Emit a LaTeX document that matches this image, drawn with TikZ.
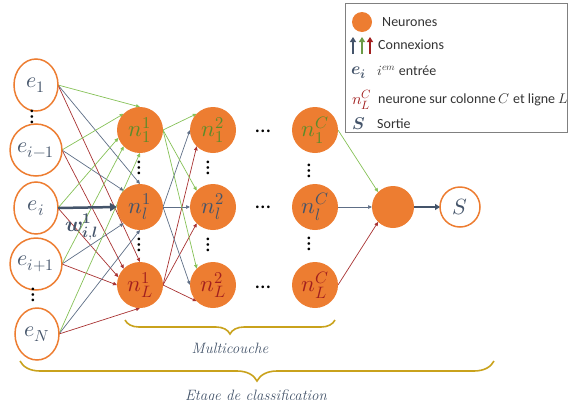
\documentclass[tikz,border=0pt]{standalone}
\usepackage{amsmath}
\usepackage{fontspec}
\usepackage{unicode-math}
\newfontfamily\calibri{Carlito}
\DeclareMathSizes{23}{23}{16.5}{12}
\DeclareMathSizes{22}{22}{16}{12}
\DeclareMathSizes{21}{21}{15}{11}
\DeclareMathSizes{17}{17}{12.5}{10}
\DeclareMathSizes{16}{16}{12}{10}
\usetikzlibrary{arrows.meta,decorations.pathreplacing,backgrounds,shapes.geometric}
\definecolor{orng}{HTML}{ED7D31}
\definecolor{tgreen}{HTML}{5B8C2A}
\definecolor{tblue}{HTML}{44546A}
\definecolor{tred}{HTML}{A11F1F}
\definecolor{lgreen}{HTML}{86C157}
\definecolor{lblue}{HTML}{5E6E86}
\definecolor{lred}{HTML}{A83232}
\definecolor{bracecol}{HTML}{C9A21C}
\definecolor{ltext}{HTML}{333333}
\newcommand{\wlabel}{$\symbfit{w}^{\symbf{1}}_{\symbfit{i},\symbfit{l}}$}
\newcommand{\eilabel}{$\symbfit{e}_{\symbfit{i}}$}
\newcommand{\slabel}{$\symbfit{S}$}
\begin{document}
\begin{tikzpicture}[x=1pt,y=-1pt,
  inp/.style={ellipse, draw=orng, line width=1.5pt, fill=white, minimum width=44pt, minimum height=52pt, inner sep=0pt, outer sep=0pt, font=\fontsize{22}{24}\selectfont, text=tblue},
  neu/.style={circle, fill=orng, minimum size=46pt, inner sep=0pt, outer sep=0pt, font=\fontsize{23}{25}\selectfont},
  con/.style={-{Triangle[length=4pt,width=3.5pt]}, line width=0.7pt},
  hdots/.style={font=\calibri\fontsize{22}{22}\selectfont, text=black, inner sep=0pt},
  vdotsn/.style={hdots, rotate=90},
  bracestyle/.style={draw=bracecol, line width=1.6pt, decorate},
  ltxt/.style={anchor=west, font=\calibri\fontsize{14}{16}\selectfont, text=ltext, inner sep=0pt},
  captxt/.style={font=\fontsize{15}{17}\selectfont\itshape, text=tblue, inner sep=0pt},
  wstyle/.style={font=\fontsize{21}{23}\selectfont, text=tblue, inner sep=0.5pt}
]
\useasboundingbox (0,0) rectangle (572,399);

% inputs
\node[inp] (e1) at (36,85) {$e_1$};
\node[inp] (e2) at (36,150) {$e_{i-1}$};
\node[inp] (e3) at (36,208) {$e_i$};
\node[inp] (e4) at (36,264) {$e_{i+1}$};
\node[inp] (e5) at (37,334) {$e_N$};
\node[vdotsn] (de1) at (32,117) {…};
\node[vdotsn] (de2) at (33,295) {…};

% column 1
\node[neu, text=tgreen] (a1) at (140,130) {$n_1^1$};
\node[neu, text=tblue] (a2) at (140,207) {$n_l^1$};
\node[neu, text=tred] (a3) at (140,285) {$n_L^1$};
% column 2
\node[neu, text=tgreen] (b1) at (213,130) {$n_1^2$};
\node[neu, text=tblue] (b2) at (213,207) {$n_l^2$};
\node[neu, text=tred] (b3) at (213,285) {$n_L^2$};
% column C
\node[neu, text=tgreen] (c1) at (315,130) {$n_1^C$};
\node[neu, text=tblue] (c2) at (315,207) {$n_l^C$};
\node[neu, text=tred] (c3) at (315,285) {$n_L^C$};

\node[vdotsn] (da1) at (139,168) {…};
\node[vdotsn] (da2) at (139,245) {…};
\node[vdotsn] (db1) at (208,168) {…};
\node[vdotsn] (db2) at (208,245) {…};
\node[vdotsn] (dc1) at (309,171) {…};
\node[vdotsn] (dc2) at (309,244) {…};
\node[hdots] (h1) at (263,131) {…};
\node[hdots] (h2) at (263,207) {…};
\node[hdots] (h3) at (263,287) {…};

% output
\node[circle, fill=orng, minimum size=42pt, inner sep=0pt, outer sep=0pt] (o) at (393,207) {};
\node[circle, draw=orng, line width=1.5pt, fill=white, minimum size=40pt, inner sep=0pt, outer sep=0pt, font=\fontsize{22}{24}\selectfont, text=tblue] (s) at (460,207) {$S$};

\begin{scope}[on background layer]
  % inputs -> column 1
  \draw[con, lgreen] (e1.east) -- (a1.90);
  \draw[con, lblue]  (e1.east) -- (a2.90);
  \draw[con, lred]   (e1.east) -- (a3.90);
  \draw[con, lgreen] (e2.east) -- (a1.135);
  \draw[con, lblue]  (e2.east) -- (a2.135);
  \draw[con, lred]   (e2.east) -- (a3.135);
  \draw[con, lgreen] (e3.east) -- (a1.200);
  \draw[con, lred]   (e3.east) -- (a3.160);
  \draw[con, lgreen] (e4.east) -- (a1.225);
  \draw[con, lblue]  (e4.east) -- (a2.225);
  \draw[con, lred]   (e4.east) -- (a3.180);
  \draw[con, lgreen] (e5.east) -- (a1.270);
  \draw[con, lblue]  (e5.east) -- (a2.270);
  \draw[con, lred]   (e5.east) -- (a3.270);
  % column 1 -> column 2
  \foreach \t in {b1,b2,b3} {
    \draw[con, lgreen] (a1.east) -- (\t.135);
    \draw[con, lblue]  (a2.east) -- (\t.180);
    \draw[con, lred]   (a3.east) -- (\t.225);
  }
  % column C -> output
  \draw[con, lgreen] (c1.east) -- (o.135);
  \draw[con, lblue]  (c2.east) -- (o.180);
  \draw[con, lred]   (c3.east) -- (o.225);
\end{scope}

% highlighted weight
\draw[line width=2.5pt, tblue, -{Triangle[length=7pt,width=8pt]}] (e3.east) -- (a2.west);
\node[wstyle] (w) at (82,227) {\wlabel};
% output arrow
\draw[line width=1.6pt, tblue, -{Triangle[length=5pt,width=6pt]}] (o.east) -- (s.west);

% braces
\coordinate (m1) at (125,320);
\coordinate (m2) at (335,320);
\draw[bracestyle, decoration={brace, mirror, amplitude=14pt}] (m1) -- (m2);
\node[captxt] (mc) at (230,348) {Multicouche};
\coordinate (g1) at (20,361);
\coordinate (g2) at (494,361);
\draw[bracestyle, decoration={brace, mirror, amplitude=20pt}] (g1) -- (g2);
\node[captxt, anchor=base] (ec) at (256,400) {Etage de classification};

% legend
\node[draw=gray, line width=0.8pt, minimum width=222pt, minimum height=129pt, anchor=north west, inner sep=0pt] (leg) at (345,3) {};
\node[circle, fill=orng, minimum size=20pt, inner sep=0pt] (lc) at (362,22) {};
\node[ltxt] (lt1) at (382,22) {Neurones};
\coordinate (la1) at (353,54); \coordinate (lb1) at (353,37);
\coordinate (la2) at (362,54); \coordinate (lb2) at (362,37);
\coordinate (la3) at (370,54); \coordinate (lb3) at (370,37);
\draw[line width=2pt, tblue, -{Triangle[length=5pt,width=6pt]}] (la1) -- (lb1);
\draw[line width=2pt, lgreen!80!black, -{Triangle[length=5pt,width=6pt]}] (la2) -- (lb2);
\draw[line width=2pt, tred, -{Triangle[length=5pt,width=6pt]}] (la3) -- (lb3);
\node[ltxt] (lt2) at (378,45) {Connexions};
\node[font=\fontsize{17}{19}\selectfont, text=tblue, inner sep=0pt] (le) at (359,73) {\eilabel};
\node[ltxt] (lt3) at (377,71) {$i^{em}$ entrée};
\node[font=\fontsize{16}{18}\selectfont, text=tred, inner sep=0pt] (ln) at (362,100) {$n_L^C$};
\node[ltxt] (lt4) at (378,100) {neurone sur colonne $C$ et ligne $L$};
\node[font=\fontsize{17}{19}\selectfont, text=tblue, inner sep=0pt] (ls) at (359,124) {\slabel};
\node[ltxt] (lt5) at (377,124) {Sortie};
\end{tikzpicture}
\end{document}
